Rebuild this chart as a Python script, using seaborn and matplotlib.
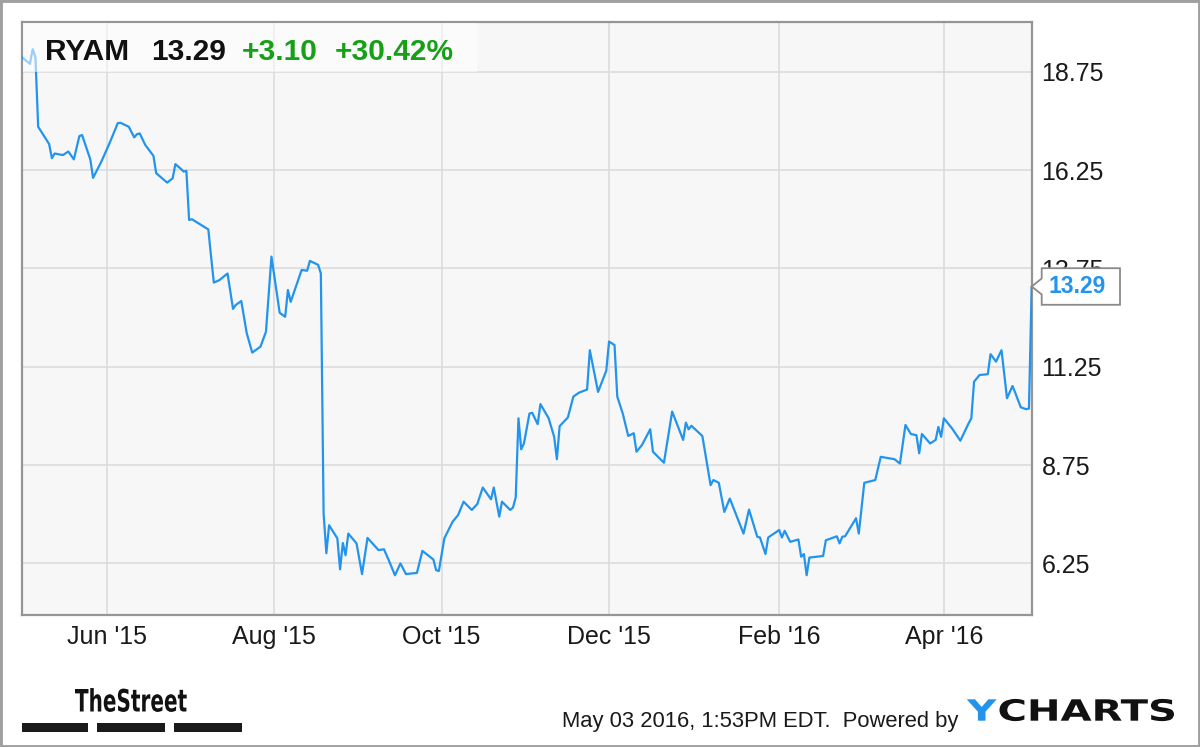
import matplotlib
matplotlib.use("Agg")
import matplotlib.pyplot as plt
import matplotlib.dates as mdates
from matplotlib.patches import Rectangle, Polygon, PathPatch
from matplotlib.textpath import TextPath
from matplotlib.font_manager import FontProperties
from matplotlib.transforms import Affine2D
import pandas as pd
import seaborn as sns

# ---------------- data ----------------
ticker = "RYAM"
dates = [
    "2015-05-01", "2015-05-04", "2015-05-05", "2015-05-06", "2015-05-07", "2015-05-11",
    "2015-05-12", "2015-05-13", "2015-05-16", "2015-05-18", "2015-05-20", "2015-05-22",
    "2015-05-23", "2015-05-26", "2015-05-27", "2015-05-30",
    "2015-06-02", "2015-06-05", "2015-06-06", "2015-06-09", "2015-06-11", "2015-06-12",
    "2015-06-13", "2015-06-15", "2015-06-18", "2015-06-19", "2015-06-23", "2015-06-25",
    "2015-06-26", "2015-06-28", "2015-06-29", "2015-06-30",
    "2015-07-01", "2015-07-02", "2015-07-08", "2015-07-09", "2015-07-10", "2015-07-12",
    "2015-07-15", "2015-07-17", "2015-07-18", "2015-07-20", "2015-07-22", "2015-07-24",
    "2015-07-27", "2015-07-29", "2015-07-31",
    "2015-08-03", "2015-08-05", "2015-08-06", "2015-08-07", "2015-08-11", "2015-08-13",
    "2015-08-14", "2015-08-17", "2015-08-18", "2015-08-19", "2015-08-20", "2015-08-21",
    "2015-08-24", "2015-08-25", "2015-08-26", "2015-08-27", "2015-08-28", "2015-08-31",
    "2015-09-02", "2015-09-04", "2015-09-08", "2015-09-10", "2015-09-12", "2015-09-14",
    "2015-09-16", "2015-09-18", "2015-09-22", "2015-09-24", "2015-09-26", "2015-09-28",
    "2015-09-29", "2015-09-30",
    "2015-10-02", "2015-10-05", "2015-10-07", "2015-10-09", "2015-10-12", "2015-10-14",
    "2015-10-16", "2015-10-19", "2015-10-20", "2015-10-22", "2015-10-23", "2015-10-26",
    "2015-10-27", "2015-10-28", "2015-10-29", "2015-10-30", "2015-10-31",
    "2015-11-02", "2015-11-03", "2015-11-05", "2015-11-06", "2015-11-09", "2015-11-11",
    "2015-11-12", "2015-11-13", "2015-11-16", "2015-11-18", "2015-11-20", "2015-11-23",
    "2015-11-24", "2015-11-27", "2015-11-30",
    "2015-12-01", "2015-12-03", "2015-12-04", "2015-12-06", "2015-12-08", "2015-12-10",
    "2015-12-11", "2015-12-13", "2015-12-16", "2015-12-17", "2015-12-21", "2015-12-24",
    "2015-12-28", "2015-12-29", "2015-12-30", "2015-12-31",
    "2016-01-04", "2016-01-07", "2016-01-08", "2016-01-10", "2016-01-12", "2016-01-14",
    "2016-01-19", "2016-01-21", "2016-01-24", "2016-01-25", "2016-01-27", "2016-01-28",
    "2016-02-01", "2016-02-02", "2016-02-03", "2016-02-05", "2016-02-08", "2016-02-09",
    "2016-02-10", "2016-02-11", "2016-02-12", "2016-02-17", "2016-02-18", "2016-02-22",
    "2016-02-23", "2016-02-24", "2016-02-25", "2016-02-29",
    "2016-03-01", "2016-03-03", "2016-03-07", "2016-03-09", "2016-03-14", "2016-03-16",
    "2016-03-18", "2016-03-20", "2016-03-22", "2016-03-23", "2016-03-24", "2016-03-27",
    "2016-03-29", "2016-03-30", "2016-03-31",
    "2016-04-01", "2016-04-04", "2016-04-07", "2016-04-10", "2016-04-11", "2016-04-12",
    "2016-04-14", "2016-04-17", "2016-04-18", "2016-04-20", "2016-04-22", "2016-04-24",
    "2016-04-26", "2016-04-27", "2016-04-29",
    "2016-05-01", "2016-05-02", "2016-05-03",
]
prices = [
    19.12, 18.95, 19.32, 19.12, 17.35, 16.91,
    16.55, 16.67, 16.63, 16.72, 16.52, 17.11,
    17.14, 16.52, 16.05, 16.46,
    16.93, 17.44, 17.45, 17.35, 17.08, 17.16,
    17.18, 16.89, 16.61, 16.17, 15.93, 16.04,
    16.40, 16.28, 16.21, 16.23,
    14.98, 15.00, 14.74, 14.05, 13.39, 13.45,
    13.62, 12.72, 12.82, 12.92, 12.10, 11.61,
    11.76, 12.14, 14.05,
    12.62, 12.52, 13.20, 12.90, 13.71, 13.69,
    13.94, 13.84, 13.62, 7.52, 6.51, 7.22,
    6.89, 6.10, 6.77, 6.46, 7.01, 6.76,
    5.98, 6.90, 6.59, 6.61, 6.29, 5.95,
    6.25, 5.98, 6.01, 6.57, 6.46, 6.35,
    6.08, 6.06,
    6.89, 7.31, 7.48, 7.82, 7.61, 7.76,
    8.18, 7.88, 8.18, 7.44, 7.82, 7.61,
    7.67, 7.93, 9.94, 9.15, 9.30,
    10.06, 10.08, 9.79, 10.30, 9.94, 9.47,
    8.90, 9.74, 9.96, 10.49, 10.59, 10.67,
    11.67, 10.61, 11.15,
    11.89, 11.80, 10.49, 10.06, 9.49, 9.56,
    9.09, 9.26, 9.66, 9.09, 8.81, 10.11,
    9.39, 9.83, 9.66, 9.75,
    9.49, 8.24, 8.37, 8.30, 7.56, 7.90,
    7.01, 7.62, 6.93, 6.91, 6.49, 6.91,
    7.10, 6.91, 7.08, 6.80, 6.86, 6.42,
    6.49, 5.95, 6.40, 6.44, 6.84, 6.94,
    6.76, 6.93, 6.94, 7.40,
    7.01, 8.30, 8.37, 8.96, 8.90, 8.79,
    9.77, 9.54, 9.51, 9.05, 9.54, 9.30,
    9.39, 9.72, 9.47,
    9.94, 9.68, 9.37, 9.81, 9.94, 10.87,
    11.04, 11.06, 11.57, 11.38, 11.67, 10.45,
    10.76, 10.59, 10.22,
    10.17, 10.19, 13.29,
]
assert len(dates) == len(prices)

x_ticks = ["2015-06-01", "2015-08-01", "2015-10-01", "2015-12-01", "2016-02-01", "2016-04-01"]
x_tick_labels = ["Jun '15", "Aug '15", "Oct '15", "Dec '15", "Feb '16", "Apr '16"]
y_ticks = [6.25, 8.75, 11.25, 13.75, 16.25, 18.75]
x_range = ["2015-05-01", "2016-05-03"]
y_range = [4.94, 20.02]
timestamp = "May 03 2016, 1:53PM EDT.  Powered by"

# ---------------- style ----------------
W, H = 1200, 747
LINE = "#2294ee"
GREEN = "#16a016"
sns.set_style("whitegrid")
plt.rcParams["font.family"] = ["Liberation Sans", "DejaVu Sans"]


def fx(px):
    return px / W


def fy(py):
    return 1 - py / H


fig = plt.figure(figsize=(W / 100, H / 100), dpi=100)
fig.patch.set_facecolor("white")


def stretched_text(s, x0, x1, y_base, cap_h, color, family="DejaVu Sans"):
    """Bold text fitted into a pixel box (left, right, baseline, cap height)."""
    fp = FontProperties(family=family, weight="bold")
    tp = TextPath((0, 0), s, size=100, prop=fp)
    bb = tp.get_extents()
    cap = TextPath((0, 0), "H", size=100, prop=fp).get_extents().y1
    sx = (x1 - x0) / (bb.x1 - bb.x0)
    sy = cap_h / cap
    tr = Affine2D().translate(-bb.x0, 0).scale(sx, sy).translate(x0, H - y_base)
    fig.add_artist(PathPatch(tp, transform=tr, facecolor=color, edgecolor="none", zorder=4))


L, R, T, B = 21.7, 1031.7, 21.7, 615.0
ax = fig.add_axes([fx(L), fy(B), (R - L) / W, (B - T) / H])

df = pd.DataFrame({"date": pd.to_datetime(dates), "price": prices})
sns.lineplot(data=df, x="date", y="price", ax=ax, color=LINE, linewidth=1.6, zorder=3)

ax.set_xlim(mdates.date2num(pd.to_datetime(x_range[0])), mdates.date2num(pd.to_datetime(x_range[1])))
ax.set_ylim(*y_range)
ax.set_facecolor("#f7f7f7")
ax.set_xticks(mdates.date2num(pd.to_datetime(x_ticks)))
ax.set_xticklabels(x_tick_labels)
ax.set_yticks(y_ticks)
ax.set_yticklabels([f"{v:.2f}" for v in y_ticks])
ax.yaxis.tick_right()
ax.tick_params(axis="both", length=0, labelsize=18, labelcolor="#1a1a1a")
ax.tick_params(axis="y", pad=7)
ax.tick_params(axis="x", pad=7)
ax.grid(True, color="#dcdcdc", linewidth=1.2)
ax.set_axisbelow(True)
for s in ax.spines.values():
    s.set_visible(True)
    s.set_color("#959595")
    s.set_linewidth(1.6)
ax.set_xlabel("")
ax.set_ylabel("")

# ---------------- header ----------------
fig.add_artist(Rectangle((fx(L + 1), fy(72)), (477 - L - 1) / W, (72 - T - 1) / H,
                         transform=fig.transFigure, facecolor="white", alpha=0.55,
                         edgecolor="none", zorder=5))
last, prev = prices[-1], prices[-2]
chg = last - prev
pct = chg / prev * 100
hdr_y = fy(60)
fig.text(fx(45), hdr_y, ticker, fontsize=21.5, fontweight="bold", color="#111111", va="baseline", zorder=6)
fig.text(fx(151.5), hdr_y, f"{last:.2f}", fontsize=21.5, fontweight="bold", color="#111111", va="baseline", zorder=6)
fig.text(fx(241.5), hdr_y, f"{chg:+.2f}", fontsize=21.5, fontweight="bold", color=GREEN, va="baseline", zorder=6)
fig.text(fx(335), hdr_y, f"{pct:+.2f}%", fontsize=21.5, fontweight="bold", color=GREEN, va="baseline", zorder=6)

# ---------------- last price flag ----------------
tip = ax.transData.transform((mdates.date2num(pd.to_datetime(dates[-1])), last))
ty = H - tip[1]
bx0, bx1, hh = 1041.7, 1120.0, 18.3
pts = [(R, ty), (bx0, ty - 8), (bx0, ty - hh), (bx1, ty - hh), (bx1, ty + hh),
       (bx0, ty + hh), (bx0, ty + 8)]
fig.add_artist(Polygon([(fx(px), fy(py)) for px, py in pts], closed=True,
                       transform=fig.transFigure, facecolor="white",
                       edgecolor="#8a8a8a", linewidth=1.3, zorder=6))
fig.text(fx(1048.5), fy(ty + 0.5), f"{last:.2f}", fontsize=16.5, fontweight="bold", color=LINE,
         va="center", ha="left", zorder=7)

# ---------------- footer ----------------
stretched_text("TheStreet", 75, 186.7, 711.5, 22.5, "#111111")
for x0, x1 in [(21.7, 88.3), (97.3, 165.0), (174.0, 241.7)]:
    fig.add_artist(Rectangle((fx(x0), fy(732.3)), (x1 - x0) / W, 9 / H,
                             transform=fig.transFigure, facecolor="#1a1a1a", edgecolor="none"))
fig.text(fx(562), fy(727), timestamp, fontsize=15.8, color="#1a1a1a", va="baseline")
stretched_text("Y", 966.7, 996.7, 720.7, 21.4, LINE)
stretched_text("CHARTS", 999.5, 1174, 720.7, 21.4, "#111111")

# outer frame
fig.add_artist(Rectangle((0, 0), 1, 1, transform=fig.transFigure, fill=False,
                         edgecolor="#a0a0a0", linewidth=3.5, zorder=10))

fig.savefig("out.png", dpi=100, facecolor="white")
